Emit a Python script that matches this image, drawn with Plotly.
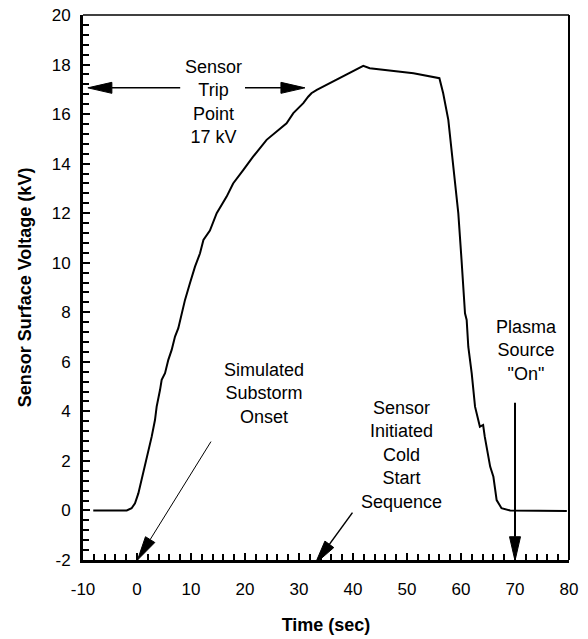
import math
import plotly.graph_objects as go

# ---------------- data ----------------
time_s = [-8.1, -1.9, -1.0, -0.37, 0.25, 0.86, 1.48, 2.1, 2.72, 3.33, 3.64, 4.26, 4.57,
          5.19, 5.8, 6.42, 7.04, 7.65, 8.1, 8.89, 9.8, 10.74, 11.67, 12.3, 13.5, 14.76,
          16.6, 17.8, 19.7, 21.5, 24.0, 25.9, 27.7, 28.95, 30.2, 30.8, 31.7, 32.3, 33.3,
          35.7, 38.8, 41.9, 43.1, 46.2, 51.2, 56.0, 56.7, 57.65, 58.6, 59.5, 60.1, 60.74,
          61.05, 61.35, 61.98, 62.6, 63.5, 64.1, 64.4, 65.4, 66.0, 66.6, 67.5, 69.1, 79.6]
voltage_kv = [0.0, 0.0, 0.09, 0.29, 0.69, 1.23, 1.77, 2.31, 2.98, 3.65, 4.19, 4.86, 5.27,
              5.54, 6.08, 6.48, 7.02, 7.36, 7.8, 8.5, 9.17, 9.84, 10.38, 10.92, 11.3, 12.0,
              12.67, 13.2, 13.75, 14.28, 14.96, 15.29, 15.63, 16.04, 16.3, 16.44, 16.7, 16.84, 16.98,
              17.25, 17.58, 17.95, 17.85, 17.78, 17.65, 17.45, 16.84, 15.77, 13.88, 12.0, 10.11, 7.96,
              7.69, 6.61, 5.54, 4.19, 3.38, 3.45, 2.98, 1.77, 1.36, 0.42, 0.09, 0.0, -0.02]

x_ticks = [-10, 0, 10, 20, 30, 40, 50, 60, 70, 80]
x_tick_text = ["-10", "0", "10", "20", "30", "40", "50", "60", "70", "80"]
y_ticks = [-2, 0, 2, 4, 6, 8, 10, 12, 14, 16, 18, 20]
y_tick_text = ["-2", "0", "2", "4", "6", "8", "10", "12", "14", "16", "18", "20"]

label_texts = ["Sensor<br>Trip<br>Point<br>17 kV",
               "Simulated<br>Substorm<br>Onset",
               "Sensor<br>Initiated<br>Cold<br>Start<br>Sequence",
               "Plasma<br>Source<br>\"On\""]
label_x = [14.1, 23.5, 49.0, 72.2]
label_y = [16.5, 4.74, 2.24, 6.44]

# arrows: (tail_x, tail_y) -> (tip_x, tip_y)
arrow_tail_x = [8.0, 20.0, 13.7, 39.9, 70.0]
arrow_tail_y = [17.06, 17.06, 2.78, -0.09, 4.35]
arrow_tip_x = [-9.1, 31.1, 0.09, 33.0, 70.0]
arrow_tip_y = [17.06, 17.06, -2.0, -2.15, -2.03]
arrow_line_w = [1.5, 1.5, 1.0, 1.5, 2.0]

# ---------------- layout constants ----------------
FIG_W, FIG_H = 588, 639
ML, MR, MT, MB = 83, 19, 15, 79
X_RANGE = [-10, 80]
Y_RANGE = [-2, 20]
FONT = "Liberation Sans, Arial, Helvetica, sans-serif"

sx = (FIG_W - ML - MR) / (X_RANGE[1] - X_RANGE[0])
sy = (FIG_H - MT - MB) / (Y_RANGE[1] - Y_RANGE[0])

fig = go.Figure()
fig.add_trace(go.Scatter(x=time_s, y=voltage_kv, mode="lines",
                         line=dict(color="black", width=2), showlegend=False,
                         hoverinfo="x+y"))

shapes = []
HEAD_L, HEAD_W = 24, 11
for tx, ty, px, py, lw in zip(arrow_tail_x, arrow_tail_y, arrow_tip_x, arrow_tip_y, arrow_line_w):
    dx = (px - tx) * sx
    dy = (py - ty) * sy
    d = math.hypot(dx, dy)
    ux, uy = dx / d, dy / d
    bx = px - HEAD_L * ux / sx
    by = py - HEAD_L * uy / sy
    nx, ny = -uy, ux
    p1x = bx + HEAD_W / 2 * nx / sx
    p1y = by + HEAD_W / 2 * ny / sy
    p2x = bx - HEAD_W / 2 * nx / sx
    p2y = by - HEAD_W / 2 * ny / sy
    shapes.append(dict(type="line", xref="x", yref="y", x0=tx, y0=ty, x1=bx, y1=by,
                       line=dict(color="black", width=lw)))
    shapes.append(dict(type="path", xref="x", yref="y",
                       path=f"M{px},{py} L{p1x},{p1y} L{p2x},{p2y} Z",
                       fillcolor="black", line=dict(color="black", width=1)))

# top and right frame
shapes.append(dict(type="line", xref="paper", yref="paper", x0=0, y0=1, x1=1, y1=1,
                   line=dict(color="black", width=1.5)))
shapes.append(dict(type="line", xref="paper", yref="paper", x0=1, y0=0, x1=1, y1=1,
                   line=dict(color="black", width=2)))

annotations = []
for t, x, y in zip(label_texts, label_x, label_y):
    annotations.append(dict(text=t, x=x, y=y, xref="x", yref="y", showarrow=False,
                            xanchor="center", yanchor="middle", align="center",
                            font=dict(family=FONT, size=18, color="black")))

fig.update_layout(
    width=FIG_W, height=FIG_H,
    margin=dict(l=ML, r=MR, t=MT, b=MB),
    paper_bgcolor="white", plot_bgcolor="white",
    shapes=shapes, annotations=annotations,
    font=dict(family=FONT, color="black"),
    xaxis=dict(range=X_RANGE, tickvals=x_ticks, ticktext=x_tick_text, ticks="inside",
               ticklen=7, tickwidth=2, ticklabelstandoff=12,
               tickcolor="black", showline=True, linewidth=3, linecolor="black",
               showgrid=False, zeroline=False, tickfont=dict(size=17, family=FONT),
               minor=dict(dtick=2, ticks="inside", ticklen=6, tickwidth=2, tickcolor="black",
                          showgrid=False),
               title=dict(text="<b>Time (sec)</b>", font=dict(size=18, family=FONT), standoff=20),
               automargin=False),
    yaxis=dict(range=Y_RANGE, tickvals=y_ticks, ticktext=y_tick_text, ticks="inside",
               ticklen=7, tickwidth=2, ticklabelstandoff=6,
               tickcolor="black", showline=True, linewidth=3, linecolor="black",
               showgrid=False, zeroline=False, tickfont=dict(size=17, family=FONT),
               minor=dict(dtick=0.4, tick0=0, ticks="inside", ticklen=6, tickwidth=2,
                          tickcolor="black", showgrid=False),
               title=dict(text="<b>Sensor Surface Voltage (kV)</b>", font=dict(size=18, family=FONT),
                          standoff=16),
               automargin=False),
)

fig.write_html("out.html")
